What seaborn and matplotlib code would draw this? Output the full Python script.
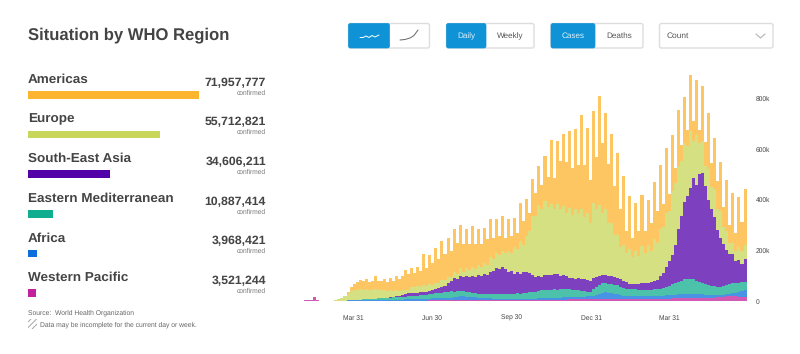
import matplotlib
matplotlib.use('Agg')
import matplotlib.dates as mdates
import matplotlib.pyplot as plt
import pandas as pd
import seaborn as sns
from matplotlib.patches import FancyBboxPatch, Rectangle

sns.set_theme(style='white')
plt.rcParams['font.family'] = ['Liberation Sans', 'DejaVu Sans']
plt.rcParams['text.hinting'] = 'no_hinting'

regions = ['Americas', 'Europe', 'South-East Asia', 'Eastern Mediterranean', 'Africa', 'Western Pacific']
totals = [71957777, 55712821, 34606211, 10887414, 3968421, 3521244]
region_colors = ['#FDB42E', '#C8D65A', '#5200A8', '#10AE8F', '#0B6FDB', '#C1219A']
tick_dates = ['2020-03-31', '2020-06-30', '2020-09-30', '2020-12-31', '2021-03-31']
tick_labels = ['Mar 31', 'Jun 30', 'Sep 30', 'Dec 31', 'Mar 31']
y_ticks = [0, 200, 400, 600, 800]
y_labels = ['0', '200k', '400k', '600k', '800k']

# cases per half week, thousands
americas = [
    0, 0, 0, 0, 0, 0, 0, 0, 0, 0,
    0, 0, 0, 0, 2, 2, 2, 8, 16, 24,
    32, 36, 36, 40, 32, 36, 51, 36, 36, 43,
    36, 47, 40, 55, 47, 55, 79, 63, 75, 55,
    75, 63, 122, 71, 115, 87, 138, 95, 154, 103,
    154, 103, 170, 122, 170, 111, 154, 103, 162, 99,
    142, 91, 138, 103, 150, 83, 134, 75, 138, 59,
    126, 67, 115, 63, 150, 95, 146, 71, 146, 91,
    154, 95, 178, 120, 253, 125, 249, 190, 284, 200,
    304, 185, 316, 190, 371, 205, 336, 170, 363, 205,
    431, 275, 379, 235, 352, 195, 324, 150, 273, 85,
    209, 75, 190, 100, 201, 85, 178, 110, 225, 125,
    253, 90, 257, 65, 221, 60, 221, 65, 182, 65,
    221, 80, 217, 50, 217, 95, 221, 95, 201, 110,
    194, 80, 201, 70, 198, 70, 198, 115, 221,
]
europe = [
    0, 0, 0, 0, 0, 0, 0, 0, 0, 0,
    0, 0, 0, 3, 5, 9, 17, 26, 37, 40,
    39, 42, 37, 41, 36, 35, 39, 33, 32, 30,
    27, 28, 23, 24, 19, 20, 16, 13, 24, 23,
    26, 21, 27, 23, 27, 20, 25, 21, 28, 22,
    25, 17, 26, 19, 30, 20, 31, 27, 35, 33,
    39, 37, 43, 39, 58, 47, 60, 55, 62, 62,
    85, 73, 105, 91, 132, 108, 142, 168, 233, 243,
    280, 267, 292, 270, 279, 258, 278, 263, 273, 250,
    278, 251, 276, 258, 277, 245, 266, 230, 297, 268,
    280, 246, 261, 209, 209, 165, 169, 127, 142, 116,
    138, 108, 130, 110, 146, 118, 148, 123, 166, 147,
    187, 180, 212, 199, 253, 244, 249, 217, 234, 196,
    224, 146, 197, 123, 128, 78, 121, 85, 111, 83,
    106, 66, 74, 42, 43, 40, 50, 52, 56,
]
south_east_asia = [
    0, 0, 0, 0, 0, 0, 0, 0, 0, 0,
    0, 0, 0, 0, 0, 0, 0, 0, 0, 0,
    0, 0, 0, 0, 0, 0, 0, 0, 1, 2,
    2, 3, 3, 5, 6, 7, 10, 12, 12, 12,
    12, 12, 12, 11, 13, 14, 16, 18, 22, 26,
    34, 40, 52, 48, 60, 56, 62, 60, 66, 62,
    74, 70, 80, 76, 90, 92, 104, 100, 110, 100,
    86, 88, 80, 84, 76, 80, 82, 74, 68, 56,
    58, 54, 60, 56, 60, 58, 60, 54, 56, 50,
    42, 44, 44, 48, 46, 48, 46, 44, 44, 40,
    34, 32, 30, 30, 32, 34, 30, 30, 28, 26,
    20, 20, 22, 24, 26, 28, 28, 30, 32, 34,
    48, 60, 80, 96, 116, 152, 208, 256, 304, 330,
    360, 400, 378, 424, 432, 388, 336, 304, 272, 224,
    196, 168, 140, 120, 116, 88, 92, 72, 88,
]
eastern_mediterranean = [
    0, 0, 0, 0, 0, 0, 0, 0, 0, 0,
    0, 0, 0, 0, 0, 0, 0, 0, 1, 1,
    2, 2, 3, 3, 4, 5, 5, 6, 6, 7,
    7, 8, 9, 9, 10, 11, 11, 12, 13, 14,
    14, 15, 16, 17, 18, 19, 20, 22, 22, 24,
    24, 25, 23, 24, 22, 21, 20, 19, 18, 17,
    17, 16, 16, 17, 16, 18, 17, 18, 18, 20,
    19, 21, 20, 22, 21, 24, 24, 26, 26, 28,
    30, 31, 32, 33, 32, 34, 32, 33, 32, 34,
    32, 30, 28, 26, 24, 22, 18, 16, 26, 30,
    36, 38, 38, 36, 36, 34, 36, 32, 30, 28,
    28, 27, 28, 26, 27, 26, 27, 27, 28, 28,
    28, 31, 34, 38, 42, 46, 50, 54, 58, 58,
    60, 58, 54, 50, 46, 42, 40, 38, 36, 34,
    32, 34, 36, 38, 40, 38, 36, 34, 32,
]
africa = [
    0, 0, 0, 0, 0, 0, 0, 0, 0, 0,
    0, 0, 0, 0, 0, 0, 0, 1, 1, 1,
    1, 2, 2, 2, 2, 2, 2, 3, 3, 3,
    3, 3, 4, 4, 4, 4, 5, 5, 5, 5,
    6, 6, 7, 7, 7, 8, 8, 8, 9, 9,
    10, 11, 12, 13, 14, 14, 13, 12, 11, 10,
    9, 8, 8, 7, 7, 6, 6, 6, 5, 5,
    5, 5, 5, 5, 5, 6, 6, 6, 6, 6,
    7, 7, 7, 8, 8, 8, 8, 8, 9, 9,
    9, 9, 9, 10, 10, 11, 12, 12, 14, 18,
    22, 24, 25, 24, 22, 20, 18, 16, 14, 13,
    12, 12, 12, 12, 12, 12, 12, 12, 12, 13,
    13, 13, 13, 14, 14, 14, 15, 15, 16, 16,
    16, 16, 15, 15, 14, 13, 12, 11, 10, 8,
    7, 8, 9, 11, 12, 14, 18, 24, 30,
]
western_pacific = [
    0, 0, 1, 2, 3, 3, 14, 2, 1, 1,
    1, 1, 1, 1, 1, 1, 1, 1, 1, 1,
    1, 1, 1, 1, 1, 1, 1, 1, 1, 1,
    1, 1, 1, 1, 1, 1, 1, 1, 1, 1,
    1, 1, 1, 1, 2, 2, 2, 2, 2, 2,
    2, 2, 2, 3, 4, 4, 4, 4, 4, 4,
    3, 3, 3, 3, 3, 3, 3, 3, 3, 3,
    3, 3, 3, 3, 3, 3, 3, 3, 3, 3,
    4, 4, 4, 4, 4, 5, 5, 5, 5, 5,
    6, 6, 6, 6, 6, 6, 6, 6, 6, 7,
    7, 8, 9, 9, 9, 8, 8, 8, 7, 7,
    7, 7, 6, 6, 6, 6, 6, 6, 7, 7,
    8, 8, 9, 9, 10, 10, 11, 11, 12, 12,
    12, 12, 12, 12, 12, 12, 12, 12, 13, 14,
    15, 16, 18, 18, 18, 18, 17, 16, 15,
]

W, H = 800, 354
fig = plt.figure(figsize=(W / 100, H / 100), dpi=100)


def box(x0, y0, x1, y1):
    # axes position from pixel edges, y counted from the top
    return [x0 / W, 1 - y1 / H, (x1 - x0) / W, (y1 - y0) / H]


# Stacked daily chart
ax = fig.add_axes(box(295, 70, 750, 301))
dates = pd.date_range('2020-01-25 18:00', periods=len(americas), freq='84h')
series = [americas, europe, south_east_asia, eastern_mediterranean, africa, western_pacific]
frames = [pd.DataFrame({'date': dates, 'count': s, 'region': r}) for s, r in zip(series, regions)]
df = pd.concat(frames, ignore_index=True)
start = mdates.date2num(pd.Timestamp('2020-01-24'))
sns.histplot(data=df, x='date', weights='count', hue='region', hue_order=regions,
             palette=dict(zip(regions, region_colors)), multiple='stack', bins=len(dates),
             binrange=(start, start + 3.5 * len(dates)), alpha=0.75, linewidth=0, legend=False, ax=ax)
ax.set_xlim(start, start + 525.5)
ax.set_ylim(0, 913)
ax.set_xticks(mdates.date2num(pd.to_datetime(tick_dates)))
ax.set_xticklabels(tick_labels, fontsize=4.8, color='#444444')
ax.yaxis.tick_right()
ax.set_yticks(y_ticks)
ax.set_yticklabels(y_labels, fontsize=4.8, color='#444444')
ax.tick_params(axis='x', length=0, pad=10)
ax.tick_params(axis='y', length=0, pad=4)
ax.set_xlabel('')
ax.set_ylabel('')
sns.despine(ax=ax, left=True, bottom=True, right=True, top=True)
ax.patch.set_alpha(0)

# Region bars on the left
row_h = 39.6
ax_bars = fig.add_axes(box(27.5, 95 - row_h / 2, 199, 293 + row_h / 2))
sns.barplot(x=totals, y=regions, hue=regions, palette=region_colors, width=0.19,
            legend=False, saturation=1, linewidth=0, ax=ax_bars)
ax_bars.set_xlim(0, totals[0])
ax_bars.axis('off')

# Everything else in pixel coordinates
ui = fig.add_axes([0, 0, 1, 1])
ui.set_xlim(0, W)
ui.set_ylim(H, 0)
ui.axis('off')
ui.patch.set_alpha(0)

dark = '#444444'
ui.text(28, 39.5, 'Situation by WHO Region', fontsize=12, fontweight='bold', color=dark)
for i, (name, total) in enumerate(zip(regions, totals)):
    ui.text(28, 83 + i * row_h, name, fontsize=9.7, fontweight='bold', color=dark)
    ui.text(266, 86 + i * row_h, f'{total:,}', fontsize=8.8, fontweight='bold', color=dark, ha='right')
    ui.text(266, 94.7 + i * row_h, 'confirmed', fontsize=4.75, color='#777777', ha='right')

ui.text(28, 314.5, 'Source:  World Health Organization', fontsize=4.85, color='#666666')
ui.text(40, 326.3, 'Data may be incomplete for the current day or week.', fontsize=4.85, color='#666666')
plt.rcParams['hatch.linewidth'] = 0.6
ui.add_patch(Rectangle((28, 319), 9, 10, facecolor='white', edgecolor='#999999', hatch='//////', linewidth=0))

# Buttons along the top
blue = '#1093D6'
groups = [
    (348.5, 389.5, 429.5, '', ''),
    (446.5, 486, 534, 'Daily', 'Weekly'),
    (551, 595, 643, 'Cases', 'Deaths'),
]
for x0, xm, x1, on, off in groups:
    ui.add_patch(FancyBboxPatch((x0, 23.5), x1 - x0, 24.5, boxstyle='round,pad=0,rounding_size=2',
                                facecolor='white', edgecolor='#DDDDDD', linewidth=1))
    ui.add_patch(FancyBboxPatch((x0, 23.5), xm - x0, 24.5, boxstyle='round,pad=0,rounding_size=2',
                                facecolor=blue, edgecolor=blue, linewidth=0.5))
    ui.text((x0 + xm) / 2, 36, on, fontsize=5.9, color='#DDF0FA', ha='center', va='center')
    ui.text((xm + x1) / 2, 36, off, fontsize=5.9, color='#555555', ha='center', va='center')
ui.add_patch(FancyBboxPatch((659.5, 23.5), 113.5, 24.5, boxstyle='round,pad=0,rounding_size=2',
                            facecolor='white', edgecolor='#DDDDDD', linewidth=1))
ui.text(667, 36, 'Count', fontsize=6, color='#555555', va='center')
ui.plot([756, 760.5, 765], [34, 38, 34], color='#BBBBBB', linewidth=0.9)
ui.plot([360, 363, 366, 369, 372, 375, 379], [37.5, 37.5, 36, 37.5, 35.5, 37, 35],
        color='white', linewidth=0.7)
ui.plot([400, 405, 410, 414, 418], [40, 39.5, 38, 35.5, 30], color='#666666', linewidth=0.7)

fig.savefig('out.png', dpi=100)
